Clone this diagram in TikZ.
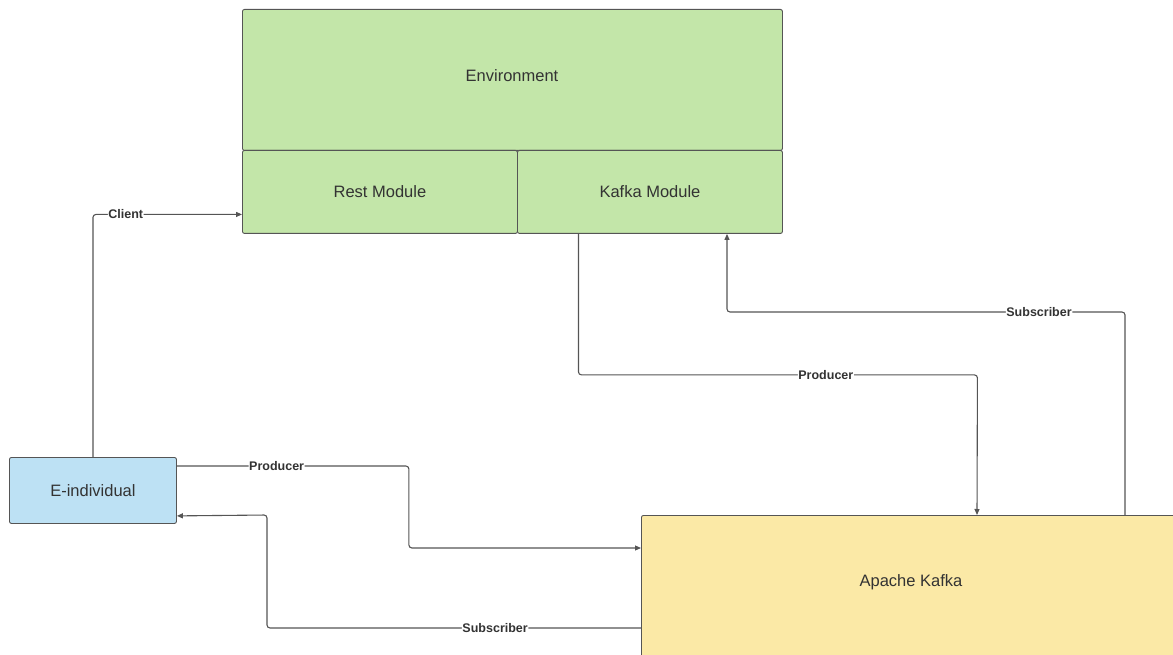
\documentclass[tikz,border=0pt]{standalone}
\usepackage{fontspec}
\setmainfont{Liberation Sans}
\usetikzlibrary{arrows.meta}
\definecolor{envgreen}{HTML}{C3E6A9}
\definecolor{indblue}{HTML}{BDE1F4}
\definecolor{kafyellow}{HTML}{FBE9A6}
\definecolor{edgegray}{HTML}{555555}
\definecolor{txtgray}{HTML}{333333}
\tikzset{
  box/.style={draw=edgegray, line width=0.9pt, rounded corners=2pt, anchor=north west, inner sep=0pt, text=txtgray, font=\fontsize{16.5}{18}\selectfont},
  conn/.style={draw=edgegray, line width=1.1pt, rounded corners=3pt, -{Triangle[length=6pt,width=5pt]}},
  lbl/.style={fill=white, inner sep=0.6pt, text=txtgray, font=\bfseries\fontsize{12.5}{14}\selectfont},
  bigtxt/.style={text=txtgray, font=\fontsize{16.5}{18}\selectfont}
}
\begin{document}
\begin{tikzpicture}[x=1pt,y=-1pt]
\useasboundingbox (0,0) rectangle (1173,655);
% boxes
\node[box, fill=envgreen, minimum width=540pt, minimum height=141pt] (env) at (242,9) {};
\node[bigtxt] (envl) at (512,76) {Environment};
\node[box, fill=envgreen, minimum width=275pt, minimum height=83pt] (rest) at (242,150) {Rest Module};
\node[box, fill=envgreen, minimum width=265pt, minimum height=83pt] (km) at (517,150) {Kafka Module};
\node[box, fill=indblue, minimum width=167pt, minimum height=66pt] (ei) at (9,457) {E-individual};
\node[box, fill=kafyellow, minimum width=540pt, minimum height=160pt] (ak) at (641,515) {};
\node[bigtxt] (akl) at (911,582) {Apache Kafka};
% connectors
\draw[conn] (ei.north) |- node[lbl, pos=0.61] {Client} ([yshift=-22.5pt]rest.west);
\draw[conn] ([xshift=-71.5pt]km.south) -- ++(0,141) -- node[lbl, pos=0.62] {Producer} ++(399,0) -- ([xshift=336pt]ak.north west);
\draw[conn] ([xshift=484pt]ak.north west) -- ++(0,-203) -- node[lbl, pos=0.216] {Subscriber} ++(-398,0) -- ([xshift=210pt]km.south west);
\draw[conn] ([yshift=-9pt]ei.north east) -- node[lbl, pos=0.43] {Producer} ++(232,0) -- ++(0,82) -- ([yshift=-33pt]ak.north west);
\draw[conn] ([yshift=-113pt]ak.north west) -- node[lbl, pos=0.39] {Subscriber} ++(-374,0) -- ++(0,-113) -- ([yshift=8pt]ei.south east);
\end{tikzpicture}
\end{document}
